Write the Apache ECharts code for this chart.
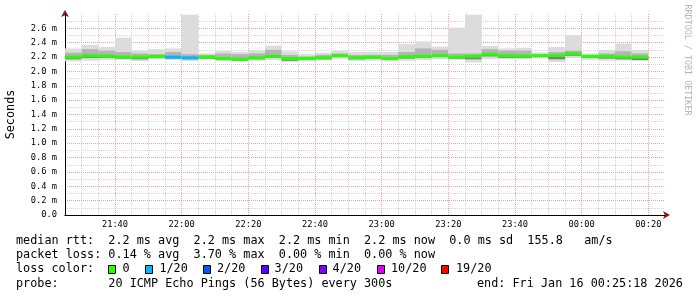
<!DOCTYPE html>
<html><head><meta charset="utf-8">
<script src="https://cdn.jsdelivr.net/npm/echarts@6/dist/echarts.min.js"></script>
<style>html,body{margin:0;padding:0;background:#fff}#c{width:697px;height:297px}</style>
</head><body><div id="c"></div>
<script>
// ---- data (5-minute SmokePing slots, start times) ----
const slotStarts = ['21:25','21:30','21:35','21:40','21:45','21:50','21:55','22:00','22:05','22:10','22:15','22:20','22:25','22:30','22:35','22:40','22:45','22:50','22:55','23:00','23:05','23:10','23:15','23:20','23:25','23:30','23:35','23:40','23:45','23:50','23:55','00:00','00:05','00:10','00:15'];
const slotMinutes = 5;
const axisStart = '21:25';
const axisEnd = '00:25';
// RTT in ms
const pingMax  = [2.32,2.37,2.34,2.47,2.29,2.31,2.32,2.79,2.25,2.285,2.27,2.29,2.36,2.28,2.24,2.26,2.285,2.27,2.27,2.27,2.38,2.42,2.345,2.61,2.79,2.355,2.32,2.33,2.265,2.34,2.505,2.25,2.30,2.39,2.30];
const pingHigh = [2.26,2.31,2.29,2.27,2.25,2.24,2.27,2.24,2.23,2.25,2.24,2.25,2.30,2.23,2.21,2.23,2.25,2.23,2.23,2.23,2.27,2.32,2.30,2.25,2.25,2.31,2.29,2.29,2.24,2.27,2.29,2.23,2.25,2.28,2.25];
const medianRtt= [2.20,2.22,2.215,2.20,2.20,2.21,2.20,2.19,2.20,2.18,2.17,2.19,2.21,2.18,2.18,2.19,2.22,2.19,2.20,2.18,2.205,2.21,2.22,2.20,2.21,2.24,2.22,2.215,2.22,2.22,2.25,2.21,2.21,2.20,2.20];
const pingLow  = [2.17,2.19,2.19,2.18,2.17,2.19,2.18,2.17,2.18,2.16,2.15,2.17,2.19,2.15,2.16,2.17,2.20,2.17,2.18,2.16,2.18,2.19,2.20,2.18,2.17,2.21,2.19,2.19,2.21,2.17,2.22,2.19,2.18,2.17,2.16];
const pingMin  = [2.14,2.15,2.16,2.16,2.145,2.17,2.16,2.145,2.17,2.145,2.145,2.15,2.16,2.13,2.14,2.16,2.18,2.145,2.15,2.15,2.15,2.16,2.17,2.16,2.125,2.17,2.17,2.17,2.20,2.13,2.19,2.16,2.15,2.15,2.145];
const lossCount= [0,0,0,0,0,0,1,1,0,0,0,0,0,0,0,0,0,0,0,0,0,0,0,0,0,0,0,0,0,0,0,0,0,0,0];
// legend
const lossLevels = [0,1,2,3,4,10,19];
const lossLabels = ['0','1/20','2/20','3/20','4/20','10/20','19/20'];
const lossColors = ['#26ff00','#00b8ff','#0059ff','#5e00ff','#7e00ff','#dd00ff','#ff0000'];
// ticks
const xTickLabels = ['21:40','22:00','22:20','22:40','23:00','23:20','23:40','00:00','00:20'];
const yTickLabels = ['0.0','0.2 m','0.4 m','0.6 m','0.8 m','1.0 m','1.2 m','1.4 m','1.6 m','1.8 m','2.0 m','2.2 m','2.4 m','2.6 m'];
const yMinorStep = 0.1;
const yMax = 2.8;
// texts
const statLines = [
  'median rtt:  2.2 ms avg  2.2 ms max  2.2 ms min  2.2 ms now  0.0 ms sd  155.8   am/s',
  'packet loss: 0.14 % avg  3.70 % max  0.00 % min  0.00 % now'
];
const lossTitle = 'loss color:';
const probeText = 'probe:       20 ICMP Echo Pings (56 Bytes) every 300s';
const endText = 'end: Fri Jan 16 00:25:18 2026';

// ---- helpers ----
function toMin(s){ const [h,m]=s.split(':').map(Number); let t=h*60+m-21*60; if(t<0) t+=1440; return t; }
function pad(n){ return (n<10?'0':'')+n; }
function fmtMin(v){ let t=Math.round(v)+21*60; t%=1440; return pad(Math.floor(t/60))+':'+pad(t%60); }
function colorForLoss(n){ let c=lossColors[0]; for(let i=0;i<lossLevels.length;i++){ if(n>=lossLevels[i]) c=lossColors[i]; } return c; }

const data = slotStarts.map((s,i)=>{ const t=toMin(s); return [t, t+slotMinutes, pingMax[i], pingHigh[i], medianRtt[i], pingLow[i], pingMin[i], lossCount[i]]; });
const yTickValues = yTickLabels.map(s=>parseFloat(s));
const xTickValues = xTickLabels.map(toMin);
// minor grid positions (slot boundaries / 0.1 steps) that are not major lines
const xMinorValues = slotStarts.map(toMin).concat([toMin(slotStarts[slotStarts.length-1])+slotMinutes])
  .filter(v=>v>toMin(axisStart) && xTickValues.indexOf(v)<0);
const yMinorValues = [];
for(let k=1;k*yMinorStep<yMax-1e-6;k++){ const v=Math.round(k*yMinorStep*10)/10; if(!yTickValues.some(t=>Math.abs(t-v)<1e-6)) yMinorValues.push(v); }

function renderItem(params, api){
  const t0=api.value(0), t1=api.value(1);
  const xa=api.coord([t0,0])[0], xb=api.coord([t1,0])[0];
  const w=xb-xa;
  const Y=v=>api.coord([t0,v])[1];
  const band=(lo,hi,color)=>({type:'rect',shape:{x:xa,y:Y(hi),width:w,height:Y(lo)-Y(hi)},style:{fill:color}});
  const med=api.value(4);
  const ym=Y(med);
  return {type:'group',children:[
    band(api.value(6),api.value(2),'#dcdcdc'),
    band(api.value(5),api.value(3),'#b4b4b4'),
    band(api.value(5),med,'#7c7c7c'),
    {type:'rect',shape:{x:xa,y:ym-1.5,width:w,height:3},style:{fill:colorForLoss(api.value(7))}}
  ]};
}

const FONT='DejaVu Sans Mono';
const gray='#d4d4d4', red='#e8a0a0';
const graphics=[];
graphics.push({type:'text',x:11,y:114.5,rotation:Math.PI/2,style:{text:'Seconds',font:'11.8px "'+FONT+'"',fill:'#000',align:'center',verticalAlign:'middle'}});
graphics.push({type:'text',x:687.5,y:60,rotation:-Math.PI/2,style:{text:'RRDTOOL / TOBI OETIKER',font:'8.4px "'+FONT+'"',fill:'#b4b4b4',align:'center',verticalAlign:'middle'}});
const lineY=[241.2,255.3,269.4,283.5];
statLines.forEach((s,i)=>graphics.push({type:'text',x:16,y:lineY[i],style:{text:s,font:'11.8px "'+FONT+'"',fill:'#000',align:'left',verticalAlign:'middle'}}));
graphics.push({type:'text',x:16,y:lineY[2],style:{text:lossTitle,font:'11.8px "'+FONT+'"',fill:'#000',align:'left',verticalAlign:'middle'}});
const sqX=[108.5,145.5,203.5,261.5,319.5,377.5,441.5];
const lbX=[122.6,159.4,217,274.6,332.6,391,456];
lossLabels.forEach((l,i)=>{
  graphics.push({type:'rect',shape:{x:sqX[i],y:265.5,width:7,height:8},style:{fill:lossColors[i],stroke:'#000',lineWidth:1}});
  graphics.push({type:'text',x:lbX[i],y:lineY[2],style:{text:l,font:'11.8px "'+FONT+'"',fill:'#000',align:'left',verticalAlign:'middle'}});
});
graphics.push({type:'text',x:16,y:lineY[3],style:{text:probeText,font:'11.8px "'+FONT+'"',fill:'#000',align:'left',verticalAlign:'middle'}});
graphics.push({type:'text',x:477,y:lineY[3],style:{text:endText,font:'11.8px "'+FONT+'"',fill:'#000',align:'left',verticalAlign:'middle'}});

const chart=echarts.init(document.getElementById('c'),null,{renderer:'canvas'});
chart.setOption({
  animation:false,
  backgroundColor:'#fff',
  grid:{left:65,right:32,top:14,bottom:82,containLabel:false},
  xAxis:[{
    // major: labels + red grid at 20-minute marks
    type:'value',position:'bottom',min:toMin(axisStart),max:toMin(axisEnd),z:1,
    axisLine:{show:true,onZero:false,lineStyle:{color:'#000',width:1}},
    axisTick:{show:false,customValues:xTickValues},
    axisLabel:{customValues:xTickValues,formatter:v=>fmtMin(v),fontFamily:FONT,fontSize:8.7,color:'#000',margin:5},
    splitLine:{show:true,lineStyle:{color:red,type:[1,1],width:1}}
  },{
    // minor: gray grid at slot boundaries + arrow
    type:'value',position:'bottom',offset:0,min:toMin(axisStart),max:toMin(axisEnd),z:0,
    axisLine:{show:true,onZero:false,symbol:['none','arrow'],symbolSize:[6,7],symbolOffset:[0,5],lineStyle:{color:'#8b1a1a',width:1}},
    axisTick:{show:false,customValues:xMinorValues},axisLabel:{show:false},
    splitLine:{show:true,lineStyle:{color:gray,type:[1,1],width:1}}
  }],
  yAxis:[{
    type:'value',position:'left',min:0,max:yMax,z:1,
    axisLine:{show:true,onZero:false,lineStyle:{color:'#000',width:1}},
    axisTick:{show:false,customValues:yTickValues},
    axisLabel:{customValues:yTickValues,formatter:v=>{const i=yTickValues.findIndex(x=>Math.abs(x-v)<1e-6);return i>=0?yTickLabels[i]:'';},fontFamily:FONT,fontSize:8.7,color:'#000',margin:8},
    splitLine:{show:true,lineStyle:{color:red,type:[1,1],width:1}}
  },{
    type:'value',position:'left',offset:0,min:0,max:yMax,z:0,
    axisLine:{show:true,onZero:false,symbol:['none','arrow'],symbolSize:[6,7],symbolOffset:[0,4],lineStyle:{color:'#8b1a1a',width:1}},
    axisTick:{show:false,customValues:yMinorValues},axisLabel:{show:false},
    splitLine:{show:true,lineStyle:{color:gray,type:[1,1],width:1}}
  }],
  series:[{
    type:'custom',xAxisIndex:0,yAxisIndex:0,renderItem:renderItem,clip:true,
    encode:{x:[0,1],y:[2,3,4,5,6]},data:data,z:2
  }],
  graphic:graphics
});
</script></body></html>
